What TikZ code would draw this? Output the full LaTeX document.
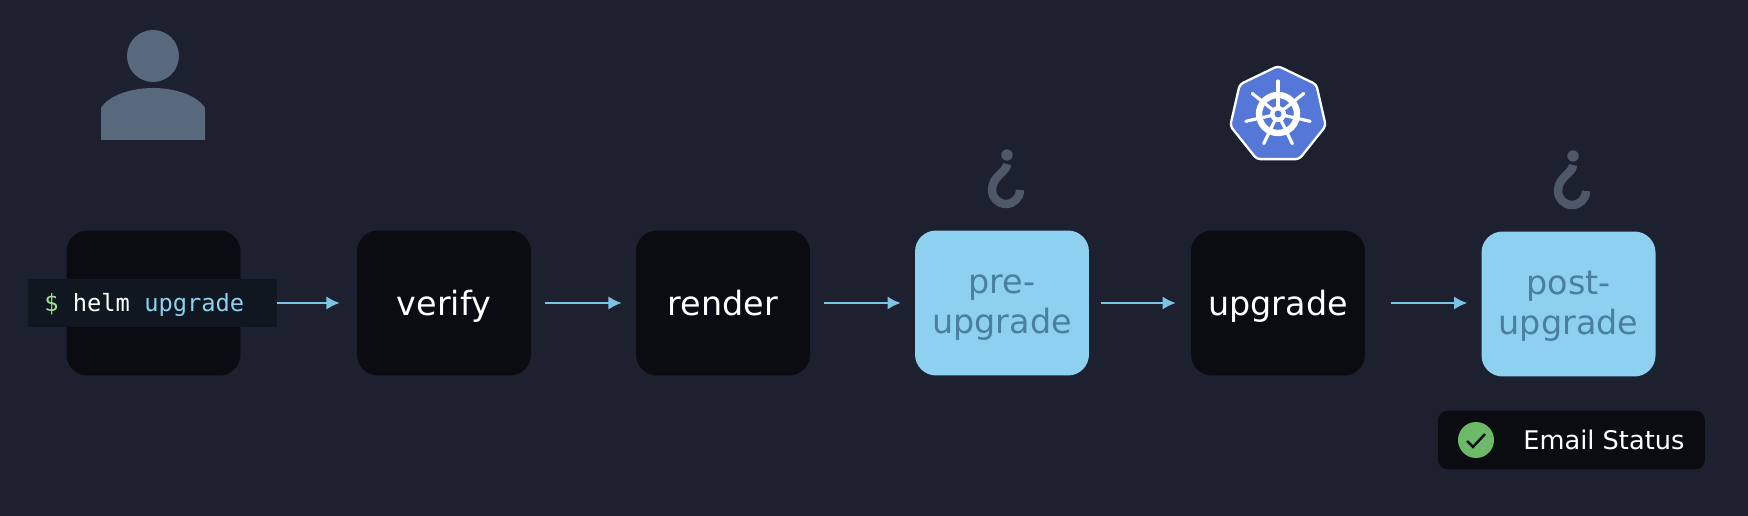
\documentclass[tikz,border=0pt]{standalone}
\usepackage{fontspec}
\setmainfont{DejaVu Sans}
\setmonofont{DejaVu Sans Mono}
\usepackage{tikz}
\usetikzlibrary{arrows.meta,positioning,calc,shapes.geometric}
\definecolor{hatter}{RGB}{28,32,47}
\definecolor{fekete}{RGB}{10,12,18}
\definecolor{egkek}{RGB}{141,208,240}
\definecolor{kekbetu}{RGB}{74,127,160}
\definecolor{nyilkek}{RGB}{124,196,228}
\definecolor{savszin}{RGB}{16,23,33}
\definecolor{alak}{RGB}{89,105,125}
\definecolor{kampo}{RGB}{78,88,104}
\definecolor{hetszog}{RGB}{84,119,216}
\definecolor{zold}{RGB}{108,186,104}
\definecolor{dollar}{RGB}{160,226,146}
\tikzset{
  lap/.style={rounded corners=0.42cm,minimum width=3.48cm,minimum height=2.9cm,inner sep=0pt},
  sotet/.style={lap,fill=fekete},
  kek/.style={lap,fill=egkek},
  betu/.style={anchor=base,inner sep=0pt,font=\fontsize{19}{22.8}\selectfont},
  nyil/.style={-{Latex[length=7.5pt,width=7.5pt]},nyilkek,line width=1pt},
  sav/.style={fill=savszin,minimum height=0.96cm,minimum width=4.98cm,inner sep=0pt},
  kod/.style={anchor=base west,inner sep=0pt,text=white,font=\ttfamily\fontsize{13.5}{16}\selectfont},
  cimke/.style={fill=fekete,rounded corners=0.2cm,minimum width=5.34cm,minimum height=1.18cm,inner sep=0pt},
  pipa/.style={circle,fill=zold,minimum size=0.72cm,inner sep=0pt},
  kullo/.style={white,line width=1.8pt,line cap=round},
}

\begin{document}
\begin{tikzpicture}[x=0.02cm,y=0.02cm]
  \fill[hatter,use as bounding box] (0,0) rectangle (1748,-516);
  % user
  \fill[alak] (153,-56) circle (26);
  \fill[alak] (101,-140) -- (101,-108) .. controls (108,-96) and (130,-88) .. (153,-88)
    .. controls (176,-88) and (198,-96) .. (205,-108) -- (205,-140) -- cycle;
  % boxes
  \node[sotet] (helm) at (153.5,-303) {};
  \node[sotet] (verify) at (444,-303) {};
  \node[sotet] (render) at (723,-303) {};
  \node[kek] (pre) at (1002,-303) {};
  \node[sotet] (upgrade) at (1278,-303) {};
  \node[kek] (post) at (1568.5,-304) {};
  \node[betu,text=white] (verifytxt) at (444,-316) {verify};
  \node[betu,text=white] (rendertxt) at (723,-316) {render};
  \node[betu,text=kekbetu] (pretxt) at (1002,-294) {pre-};
  \node[betu,text=kekbetu] (pretxtb) at (1002,-334) {upgrade};
  \node[betu,text=white] (upgradetxt) at (1278,-316) {upgrade};
  \node[betu,text=kekbetu] (posttxt) at (1568.5,-295) {post-};
  \node[betu,text=kekbetu] (posttxtb) at (1568.5,-335) {upgrade};
  \node[sav] (parancs) at (152.5,-303) {};
  \node[kod] (parancstxt) at (44,-312) {{\color{dollar}\$}\hspace{.602em}helm\hspace{.602em}{\color{egkek}upgrade}};
  % arrows
  \draw[nyil,shorten >=0.34cm] (parancs) -- (verify);
  \draw[nyil,shorten <=0.28cm,shorten >=0.28cm] (verify) -- (render);
  \draw[nyil,shorten <=0.28cm,shorten >=0.28cm] (render) -- (pre);
  \draw[nyil,shorten <=0.24cm,shorten >=0.3cm] (pre) -- (upgrade);
  \draw[nyil,shorten <=0.52cm,shorten >=0.28cm] (upgrade) -- (post.west |- upgrade);
  % hooks
  \foreach \hx/\hy in {0/0,566/-1} {
    \begin{scope}[shift={(\hx,\hy)}]
      \fill[kampo] (1007,-155) circle (5.7);
      \draw[kampo,line width=4.8pt] (1007,-164) .. controls (1007,-172) and (992,-176) .. (992,-190) arc (180:360:14);
    \end{scope}
  }
  % kubernetes logo
  \node[regular polygon,regular polygon sides=7,minimum size=1.96cm,inner sep=0pt,draw=white,line width=1.3pt,
    fill=hetszog,rounded corners=0.07cm] (logo) at (1278,-115) {};
  \draw[white,line width=3.6pt] (1278,-114) circle (19);
  \foreach \a in {0,...,6} {
    \draw[kullo] ($(1278,-114)+(90+\a*51.43:6)$) -- ($(1278,-114)+(90+\a*51.43:33)$);
  }
  \fill[white] (1278,-114) circle (8);
  \fill[hetszog] (1278,-114) circle (3.5);
  % email status
  \node[cimke] (email) at (1571.5,-440) {};
  \node[pipa] (ok) at (1476,-440) {};
  \draw[fekete,line width=1.4pt] (1467,-441) -- (1473,-447) -- (1485,-434);
  \node[anchor=base west,inner sep=0pt,text=white,font=\fontsize{14.6}{17}\selectfont] (statusz) at (1523,-450) {Email Status};
\end{tikzpicture}
\end{document}
